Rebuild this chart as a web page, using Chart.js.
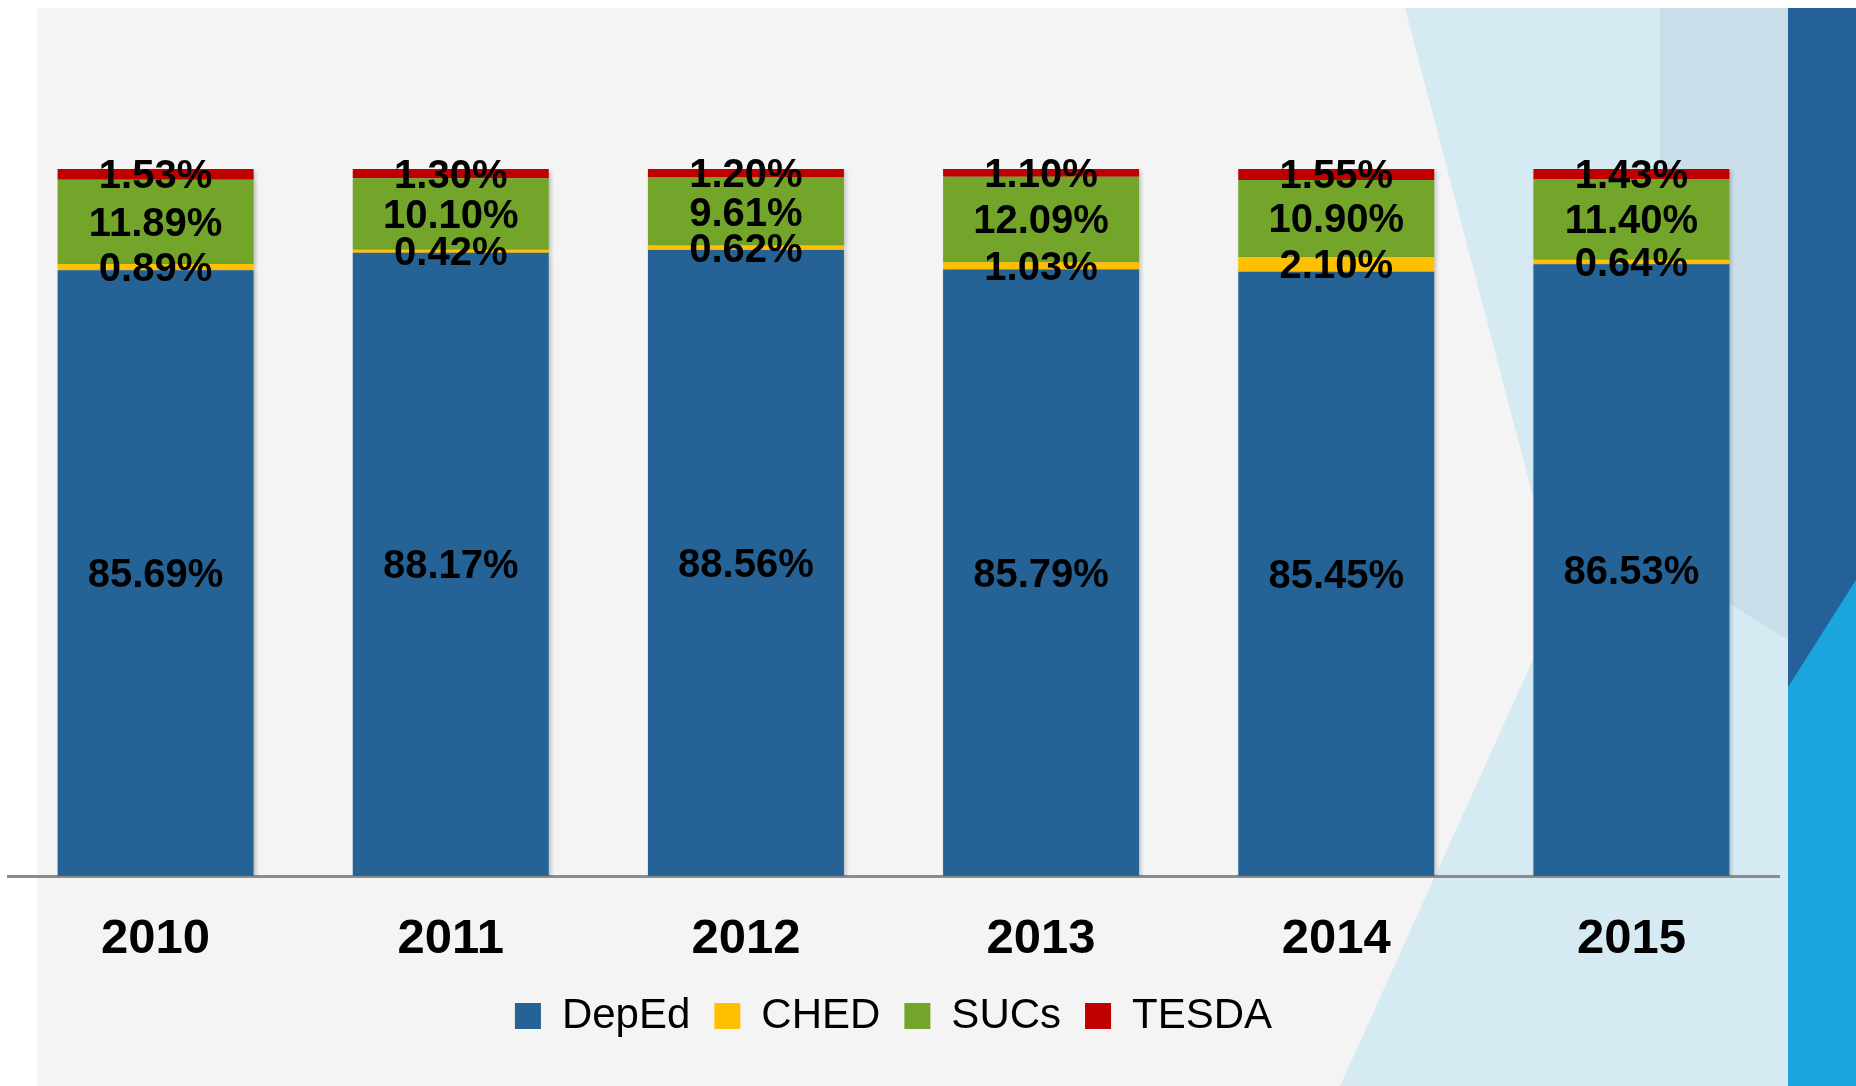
<!DOCTYPE html>
<html>
<head>
<meta charset="utf-8">
<script src="https://cdn.jsdelivr.net/npm/chart.js@4.4.1/dist/chart.umd.min.js"></script>
<style>
  html, body { margin: 0; padding: 0; background: #fff; }
  #wrap { position: relative; width: 1856px; height: 1086px; overflow: hidden; }
  .deco { position: absolute; left: 0; top: 0; width: 1856px; height: 1086px; }
  #slide { position: absolute; left: 37px; top: 8px; width: 1751px; height: 1078px; background: #f4f4f4; }
  #facet { background: #d6eaf3; clip-path: polygon(1405px 8px, 1788px 8px, 1788px 1086px, 1340px 1086px, 1560px 600px); }
  #facet2 { background: rgba(180, 200, 215, 0.35); clip-path: polygon(1660px 8px, 1788px 8px, 1788px 640px, 1660px 560px); }
  #band { background: #24609a; clip-path: polygon(1788px 8px, 1856px 8px, 1856px 1086px, 1788px 1086px); }
  #tri { background: #1aa6dd; clip-path: polygon(1788px 687px, 1856px 580px, 1856px 1086px, 1788px 1086px); }
  canvas { position: absolute; left: 0; top: 0; }
</style>
</head>
<body>
<div id="wrap">
  <div id="slide"></div>
  <div class="deco" id="facet"></div>
  <div class="deco" id="facet2"></div>
  <div class="deco" id="band"></div>
  <div class="deco" id="tri"></div>
  <canvas id="chart" width="1856" height="1086"></canvas>
</div>
<script>
const years = ["2010", "2011", "2012", "2013", "2014", "2015"];
const deped = [85.69, 88.17, 88.56, 85.79, 85.45, 86.53];
const ched = [0.89, 0.42, 0.62, 1.03, 2.10, 0.64];
const sucs = [11.89, 10.10, 9.61, 12.09, 10.90, 11.40];
const tesda = [1.53, 1.30, 1.20, 1.10, 1.55, 1.43];

// soft shadow under the bars, like the slide
const barShadow = {
  id: "barShadow",
  beforeDatasetsDraw(chart) {
    const ctx = chart.ctx;
    ctx.save();
    ctx.shadowColor = "rgba(0, 0, 0, 0.22)";
    ctx.shadowBlur = 4;
    ctx.shadowOffsetX = 2;
    ctx.shadowOffsetY = 2;
  },
  afterDatasetsDraw(chart) {
    chart.ctx.restore();
  },
};

// draws the percentage in the middle of every segment
const segmentLabels = {
  id: "segmentLabels",
  afterDatasetsDraw(chart) {
    const ctx = chart.ctx;
    ctx.save();
    ctx.font = "bold 40px 'Liberation Sans'";
    ctx.fillStyle = "#000";
    ctx.textAlign = "center";
    ctx.textBaseline = "alphabetic";
    chart.data.datasets.forEach((ds, i) => {
      chart.getDatasetMeta(i).data.forEach((bar, j) => {
        const y = (bar.y + bar.base) / 2 + 14;
        ctx.fillText(ds.data[j].toFixed(2) + "%", bar.x, y);
      });
    });
    ctx.restore();
  },
};

const bar = (label, data, color) => ({
  label,
  data,
  backgroundColor: color,
  borderWidth: 0,
  barPercentage: 0.664,
  categoryPercentage: 1,
});

new Chart(document.getElementById("chart"), {
  type: "bar",
  data: {
    labels: years,
    datasets: [
      bar("DepEd", deped, "#256295"),
      bar("CHED", ched, "#ffc000"),
      bar("SUCs", sucs, "#74a52b"),
      bar("TESDA", tesda, "#c00000"),
    ],
  },
  options: {
    responsive: false,
    animation: false,
    layout: { padding: { left: 8, right: 77, top: 169, bottom: 39 } },
    plugins: {
      tooltip: { enabled: false },
      legend: {
        position: "bottom",
        labels: {
          color: "#000",
          font: { family: "'Liberation Sans'", size: 42 },
          boxWidth: 26,
          boxHeight: 26,
          padding: 24,
        },
      },
    },
    scales: {
      x: {
        stacked: true,
        grid: { display: false, drawTicks: false },
        border: { display: true, color: "#8c8c8c", width: 3 },
        ticks: {
          color: "#000",
          padding: 34,
          font: { family: "'Liberation Sans'", size: 49, weight: "bold" },
        },
        afterFit: (scale) => { scale.height = 95; },
      },
      y: {
        stacked: true,
        display: false,
        min: 0,
        max: 100,
      },
    },
  },
  plugins: [barShadow, segmentLabels],
});
</script>
</body>
</html>
